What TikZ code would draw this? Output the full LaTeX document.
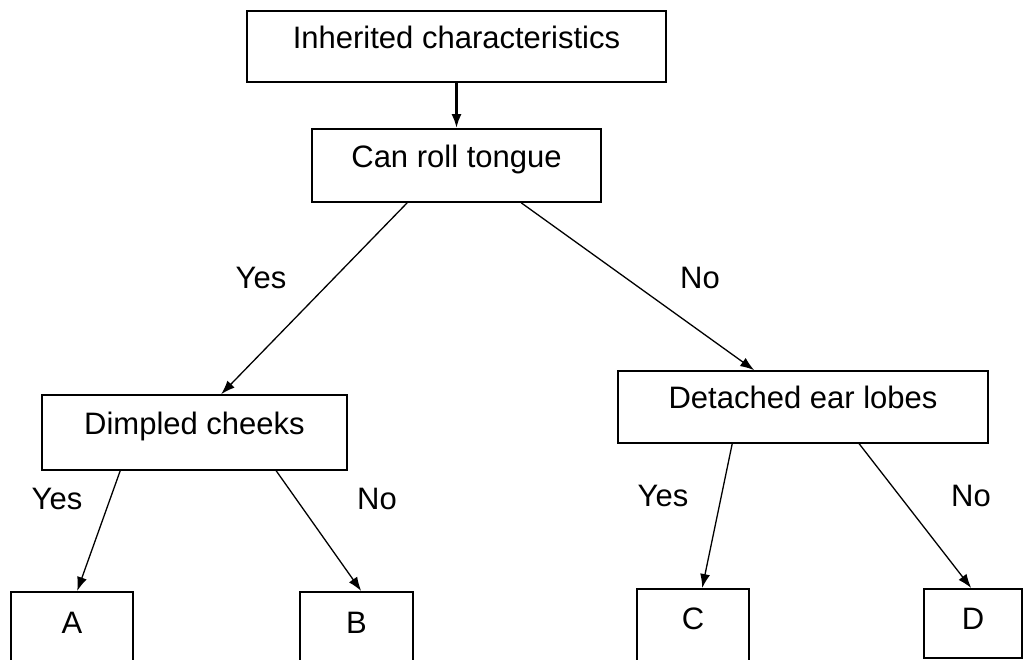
\documentclass[tikz,border=0pt]{standalone}
\usepackage{fontspec}
\setmainfont{Liberation Sans}
\usetikzlibrary{arrows.meta}
\begin{document}
\begin{tikzpicture}[x=1bp,y=-1bp,
  font=\fontsize{31bp}{36bp}\selectfont,
  box/.style={draw, line width=1.6bp, inner sep=0pt, text height=0.75em, text depth=0.35em},
  leaf/.style={draw, line width=1.6bp, inner sep=0pt, anchor=north},
  conn/.style={line width=1.3bp, -{Latex[length=14bp,width=10bp]}},
  lab/.style={anchor=base, inner sep=0pt}]
\useasboundingbox (0,0) rectangle (1031,660);
\node[box, minimum width=419bp, minimum height=71bp] (inh) at (456.5,46.5) {Inherited characteristics};
\node[box, minimum width=289bp, minimum height=73bp] (can) at (456.5,165.5) {Can roll tongue};
\node[box, minimum width=305bp, minimum height=75bp] (dim) at (194.5,432.5) {Dimpled cheeks};
\node[box, minimum width=370bp, minimum height=72bp] (det) at (803,407) {Detached ear lobes};
\node[leaf, minimum width=122bp, text height=42bp, text depth=47bp] (A) at (72,591) {A};
\node[leaf, minimum width=113bp, text height=42bp, text depth=47bp] (B) at (356.5,591) {B};
\node[leaf, minimum width=112bp, text height=41bp, text depth=51bp] (C) at (693,588) {C};
\node[leaf, minimum width=98bp, text height=41bp, text depth=28bp] (D) at (973,588) {D};
\draw[conn, line width=2.6bp] (inh.south) -- (can.north);
\draw[conn] ([xshift=96bp]can.south west) -- ([xshift=180bp]dim.north west);
\draw[conn] ([xshift=210bp]can.south west) -- ([xshift=137bp]det.north west);
\draw[conn] ([xshift=79bp]dim.south west) -- ([xshift=67bp]A.north west);
\draw[conn] ([xshift=235bp]dim.south west) -- ([xshift=62bp]B.north west);
\draw[conn] ([xshift=115bp]det.south west) -- ([xshift=66bp]C.north west);
\draw[conn] ([xshift=242bp]det.south west) -- ([xshift=48bp]D.north west);
\node[lab] (y1) at (261,288) {Yes};
\node[lab] (n1) at (700,288) {No};
\node[lab] (y2) at (57,509) {Yes};
\node[lab] (n2) at (377,509) {No};
\node[lab] (y3) at (663,506) {Yes};
\node[lab] (n3) at (971,506) {No};
\end{tikzpicture}
\end{document}
